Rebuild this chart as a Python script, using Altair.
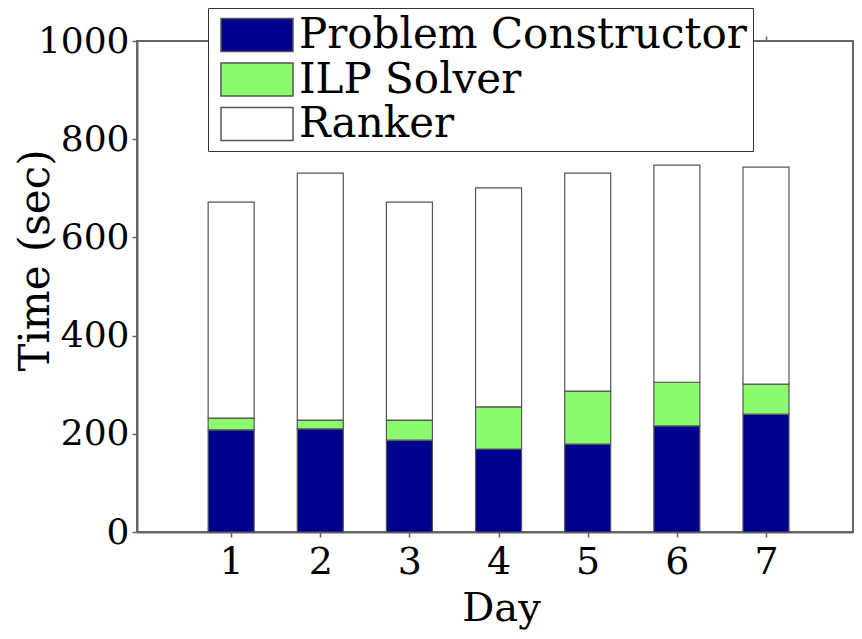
import altair as alt
import pandas as pd

days = [1, 2, 3, 4, 5, 6, 7]
components = ["Problem Constructor", "ILP Solver", "Ranker"]
problem_constructor = [208, 210, 187, 169, 179, 216, 240]
ilp_solver = [24, 18, 41, 86, 108, 89, 61]
ranker = [440, 503, 444, 446, 444, 442, 442]
colors = ["#000090", "#8CFA6E", "#FFFFFF"]
y_ticks = [0, 200, 400, 600, 800, 1000]

rows = []
for i, d in enumerate(days):
    for k, (name, vals) in enumerate(zip(components, [problem_constructor, ilp_solver, ranker])):
        rows.append({"day": d, "component": name, "time": vals[i], "ord": k})
df = pd.DataFrame(rows)

FONT = "DejaVu Serif"
x_scale = alt.Scale(domain=[0, 7.92], nice=False, zero=False)
y_scale = alt.Scale(domain=[0, 1000], nice=False)

bars = alt.Chart(df).mark_bar(size=46, stroke="#555555", strokeWidth=1.2).encode(
    x=alt.X("day:Q", scale=x_scale,
            axis=alt.Axis(values=days, format="d", grid=False, tickSize=5, tickWidth=1.5,
                          tickColor="#666666", domainColor="#666666", domainWidth=2,
                          labelFont=FONT, labelFontSize=38, labelColor="black", labelPadding=6,
                          title="Day", titleFont=FONT, titleFontSize=40, titleFontWeight="normal",
                          titleColor="black", titleX=364, titleY=88, titleBaseline="alphabetic")),
    y=alt.Y("time:Q", stack="zero", scale=y_scale,
            axis=alt.Axis(values=y_ticks, format="d", grid=False, tickSize=5, tickWidth=1.5,
                          tickColor="#666666", domainColor="#666666", domainWidth=2,
                          labelFont=FONT, labelFontSize=36, labelColor="black", labelPadding=3,
                          title="Time (sec)", titleFont=FONT, titleFontSize=42,
                          titleFontWeight="normal", titleColor="black",
                          titleX=-89, titleY=219, titleBaseline="alphabetic")),
    color=alt.Color("component:N",
                    scale=alt.Scale(domain=components, range=colors),
                    legend=alt.Legend(title=None, orient="none", legendX=71, legendY=-33,
                                      direction="vertical",
                                      symbolType="M-0.778,-0.92L3.222,-0.92L3.222,0.92L-0.778,0.92Z",
                                      symbolSize=1296, symbolStrokeColor="#555555",
                                      symbolStrokeWidth=1.5, symbolOpacity=1,
                                      labelFont=FONT, labelFontSize=42, labelColor="black",
                                      labelOffset=43, labelLimit=700, padding=6,
                                      rowPadding=2.5, fillColor="white", strokeColor="#333333")),
    order=alt.Order("ord:Q", sort="ascending"),
)

top_ticks = alt.Chart(df).mark_point(opacity=0).encode(
    x=alt.X("day:Q", scale=x_scale,
            axis=alt.Axis(orient="top", values=days, labels=False, title=None, grid=False,
                          domain=False, tickSize=5, tickWidth=1.5, tickColor="#666666")),
)

chart = alt.layer(bars, top_ticks).resolve_axis(x="independent").properties(
    width=716, height=491,
    autosize=alt.AutoSizeParams(type="none"),
    padding={"left": 129, "top": 33, "right": 1, "bottom": 98},
).configure_view(stroke="#666666", strokeWidth=2)

chart.save("out.html", embed_options={"renderer": "svg", "actions": False})
